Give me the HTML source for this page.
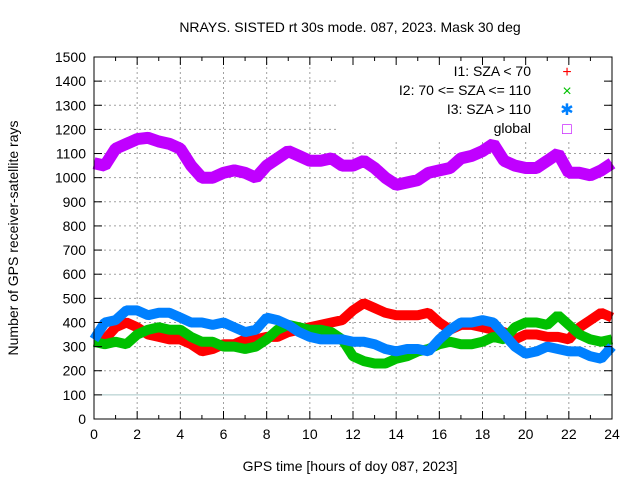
<!DOCTYPE html>
<html><head><meta charset="utf-8"><style>
body{margin:0;background:#fff}
svg{display:block;font-family:"Liberation Sans",sans-serif}
</style></head><body>
<svg id="c" width="640" height="480" xmlns="http://www.w3.org/2000/svg">
<text x="350" y="32" font-size="14" text-anchor="middle" fill="#000">NRAYS. SISTED rt 30s mode. 087, 2023. Mask 30 deg</text>
<text x="350" y="471" font-size="14" text-anchor="middle">GPS time [hours of doy 087, 2023]</text>
<text transform="translate(18,238) rotate(-90)" font-size="14" text-anchor="middle">Number of GPS receiver-satellite rays</text>
<g id="grid"></g><g id="series"></g><g id="axes"></g><g id="legend"></g>
</svg>
<script>
const hours=[0,0.5,1,1.5,2,2.5,3,3.5,4,4.5,5,5.5,6,6.5,7,7.5,8,8.5,9,9.5,10,10.5,11,11.5,12,12.5,13,13.5,14,14.5,15,15.5,16,16.5,17,17.5,18,18.5,19,19.5,20,20.5,21,21.5,22,22.5,23,23.5,24];
const globalVals=[1060,1050,1120,1140,1160,1165,1150,1140,1120,1050,1000,1000,1020,1030,1020,1000,1050,1080,1110,1090,1070,1070,1080,1050,1050,1070,1040,1000,970,980,990,1020,1030,1040,1080,1090,1110,1140,1070,1050,1040,1040,1070,1100,1020,1020,1010,1030,1060];
const i1Vals=[360,330,380,400,380,350,340,330,330,310,280,290,310,310,330,330,340,340,360,370,380,390,400,410,450,480,460,440,430,430,430,440,400,370,390,390,380,370,360,330,350,350,340,340,330,380,410,440,420];
const i2Vals=[320,310,320,310,350,370,380,370,370,340,320,320,300,300,290,300,330,370,390,380,370,370,360,330,260,240,230,230,250,260,280,290,310,320,310,310,320,340,330,380,400,400,390,430,390,350,330,320,330];
const i3Vals=[330,400,410,450,450,430,440,440,420,400,400,390,400,380,360,370,420,410,390,360,340,330,330,330,320,320,310,290,280,290,290,280,330,370,400,400,410,400,350,300,270,280,300,290,280,280,260,250,300];
const xTicks=[0,2,4,6,8,10,12,14,16,18,20,22,24];
const yTicks=[0,100,200,300,400,500,600,700,800,900,1000,1100,1200,1300,1400,1500];
const NS="http://www.w3.org/2000/svg";
const L=94,R=612,T=57,B=419;
const X=h=>L+(h/24)*(R-L);
const Y=v=>B-(v/1500)*(B-T);
function mk(tag,attrs,parent){const e=document.createElementNS(NS,tag);for(const k in attrs)e.setAttribute(k,attrs[k]);parent.appendChild(e);return e;}
const grid=document.getElementById('grid'),axes=document.getElementById('axes'),ser=document.getElementById('series'),leg=document.getElementById('legend');
xTicks.forEach(h=>{
 if(h>0&&h<24){const g=mk('line',{x1:X(h),x2:X(h),y1:T,y2:B,stroke:'#a0a0a0','stroke-dasharray':'2,3'},grid);
 
 }
 const t=mk('text',{x:X(h),y:B+20,'font-size':14,'text-anchor':'middle'},axes);t.textContent=h;
 
 
});
for(let h=0;h<=24;h++){mk('line',{x1:X(h),x2:X(h),y1:B,y2:B-(h%2?4:8),stroke:'#000'},axes);mk('line',{x1:X(h),x2:X(h),y1:T,y2:T+(h%2?4:8),stroke:'#000'},axes);}
yTicks.forEach(v=>{
 if(v>0&&v<1500){const g=mk('line',{x1:L,x2:R,y1:Y(v),y2:Y(v),stroke:v==100?'#a8c8c8':'#a0a0a0','stroke-dasharray':v==100?'none':'2,3'},grid);
 
 }
 mk('line',{x1:L,x2:L+8,y1:Y(v),y2:Y(v),stroke:'#000'},axes);mk('line',{x1:R,x2:R-8,y1:Y(v),y2:Y(v),stroke:'#000'},axes);
 const t=mk('text',{x:L-8,y:Y(v)+5,'font-size':14,'text-anchor':'end'},axes);t.textContent=v;
 
 
});
const fr=mk('rect',{x:L,y:T,width:R-L,height:B-T,fill:'none',stroke:'#000'},axes);


mk('rect',{x:337,y:60,width:270,height:82,fill:'#fff'},grid);
function drawSeries(vals,color,w,name){
 const pts=hours.map((h,i)=>X(h).toFixed(1)+','+Y(vals[i]).toFixed(1)).join(' ');
 const p=mk('polyline',{points:pts,fill:'none',stroke:color,'stroke-width':w,'stroke-linejoin':'bevel','stroke-linecap':'butt'},ser);
 
 
}
drawSeries(i1Vals,'#ff0000',10,'series-i1');
drawSeries(i2Vals,'#00c000',10,'series-i2');
drawSeries(i3Vals,'#0080ff',10,'series-i3');
drawSeries(globalVals,'#c000ff',12,'series-global');
const items=[['I1: SZA < 70','#ff0000','+'],['I2: 70 <= SZA <= 110','#00c000','×'],['I3: SZA > 110','#0080ff','✱'],['global','#c000ff','□']];
items.forEach((it,i)=>{
 const y=76+i*19;
 const t=mk('text',{x:531,y:y,'font-size':14,'text-anchor':'end'},leg);t.textContent=it[0];
 
 
 const m=mk('text',{x:567,y:y+1,'font-size':16,'text-anchor':'middle',fill:it[1]},leg);m.textContent=it[2];
 
 
});
</script>
</body></html>
